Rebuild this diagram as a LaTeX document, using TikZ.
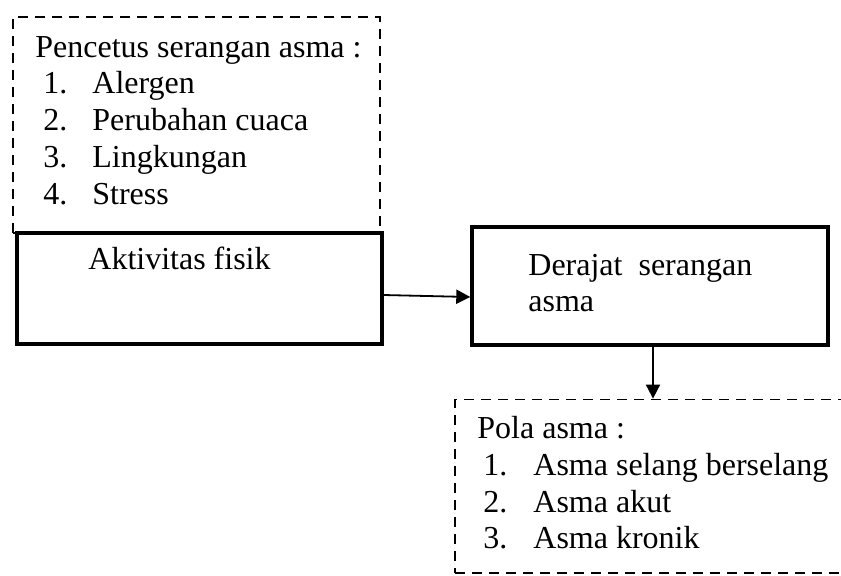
\documentclass[tikz,border=0pt]{standalone}
\usepackage{fontspec}
\setmainfont{Liberation Serif}
\usepackage{tikz}
\usetikzlibrary{positioning,arrows.meta,calc}

\tikzset{
  solidbox/.style={draw, line width=1.7pt, inner sep=0pt},
  dashbox/.style={draw, line width=0.9pt, dash pattern=on 5pt off 3.5pt, inner sep=0pt},
  txt/.style={anchor=base west, inner sep=0pt},
  link/.style={line width=0.9pt, -{Triangle[length=7pt,width=7pt]}},
}

\begin{document}
\begin{tikzpicture}[x=0.5pt, y=-0.5pt, font=\fontsize{16pt}{18pt}\selectfont]
  \useasboundingbox (0,0) rectangle (841,575);
  % boxes
  \node[dashbox, minimum width=183.5pt, minimum height=108pt] (pencetus) at (196.5,125) {};
  \node[solidbox, minimum width=182.5pt, minimum height=55.5pt] (aktivitas) at (199.5,288.5) {};
  \node[solidbox, minimum width=178pt, minimum height=59pt] (derajat) at (650,286) {};
  \node[dashbox, minimum width=195pt, minimum height=86.75pt] (pola) at (650,486.25) {};
  % texts
  \node[txt] (pchead) at (35,57) {Pencetus serangan asma :};
  \foreach \t/\yy [count=\i] in {Alergen/93, Perubahan cuaca/130, Lingkungan/167, Stress/204} {
    \node[txt] (pn\i) at (43,\yy) {\i.};
    \node[txt] (pt\i) at (92,\yy) {\t};
  }
  \node[txt] (akt) at (88,269) {Aktivitas fisik};
  \node[txt] (der1) at (528,275) {Derajat\ \ serangan};
  \node[txt] (der2) at (528,311) {asma};
  \node[txt] (plhead) at (477,438) {Pola asma :};
  \foreach \t/\yy [count=\i] in {Asma selang berselang/475, Asma akut/512, Asma kronik/548} {
    \node[txt] (qn\i) at (483,\yy) {\i.};
    \node[txt] (qt\i) at (533,\yy) {\t};
  }
  % arrows
  \draw[link] ([yshift=-3.25pt]aktivitas.east) -- ([yshift=-5.5pt]derajat.west);
  \draw[link] ([xshift=1.5pt]derajat.south) -- ([xshift=1.5pt]derajat.south |- pola.north);
\end{tikzpicture}
\end{document}
